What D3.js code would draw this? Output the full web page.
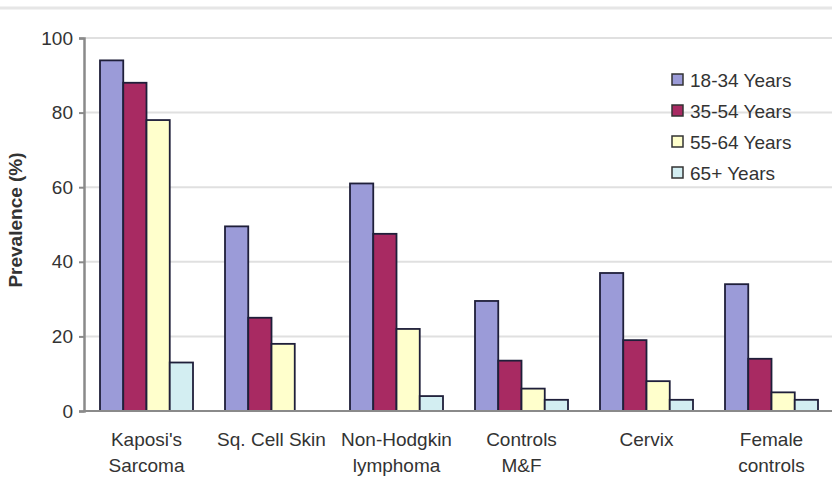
<!DOCTYPE html>
<html><head><meta charset="utf-8">
<script src="https://cdn.jsdelivr.net/npm/d3@7"></script>
<style>
html,body{margin:0;padding:0;background:#fff;}
svg{display:block;}
text{font-family:"Liberation Sans",Arial,sans-serif;fill:#333;}
</style></head>
<body>
<script>
const categories = [["Kaposi's","Sarcoma"],["Sq. Cell Skin"],["Non-Hodgkin","lymphoma"],["Controls","M&F"],["Cervix"],["Female","controls"]];
const seriesNames = ["18-34 Years","35-54 Years","55-64 Years","65+ Years"];
const age18_34 = [94, 49.5, 61, 29.5, 37, 34];
const age35_54 = [88, 25, 47.5, 13.5, 19, 14];
const age55_64 = [78, 18, 22, 6, 8, 5];
const age65plus = [13, 0, 4, 3, 3, 3];
const yTicks = [0, 20, 40, 60, 80, 100];
const colors = ["#9b9bd8", "#a82a62", "#ffffcc", "#d3eef2"];

const series = [age18_34, age35_54, age55_64, age65plus];
const W = 832, H = 477;
const svg = d3.select("body").append("svg").attr("width", W).attr("height", H);

const x0 = d3.scaleBand().domain(d3.range(categories.length)).range([84, 834]).paddingInner(0.256).paddingOuter(0.128);
const x1 = d3.scaleBand().domain(d3.range(seriesNames.length)).range([0, x0.bandwidth()]);
const y = d3.scaleLinear().domain([0, 100]).range([411, 38]);

// top border line
svg.append("line").attr("x1", 0).attr("x2", W).attr("y1", 8).attr("y2", 8).attr("stroke", "#e6e6e6").attr("stroke-width", 3);

// gridlines
svg.append("g").selectAll("line").data(yTicks.filter(d => d > 0)).join("line")
  .attr("x1", 84).attr("x2", W).attr("y1", d => y(d)).attr("y2", d => y(d))
  .attr("stroke", "#e0e0e0").attr("stroke-width", 2);

// bars
const g = svg.append("g");
series.forEach((vals, si) => {
  g.append("g").selectAll("rect").data(vals.map((v, ci) => ({v, ci}))).join("rect")
    .filter(d => d.v > 0)
    .attr("x", d => x0(d.ci) + x1(si))
    .attr("width", x1.bandwidth())
    .attr("y", d => y(d.v))
    .attr("height", d => y(0) - y(d.v))
    .attr("fill", colors[si])
    .attr("stroke", "#1f1f3a").attr("stroke-width", 1.8);
});

// x baseline
svg.append("line").attr("x1", 84).attr("x2", W).attr("y1", y(0)).attr("y2", y(0)).attr("stroke", "#8a8a8a").attr("stroke-width", 2);

// y axis
const yAxis = d3.axisLeft(y).tickValues(yTicks).tickSize(5).tickPadding(6);
const ya = svg.append("g").attr("transform", "translate(84,0)").call(yAxis);
ya.select(".domain").attr("stroke", "#8a8a8a").attr("stroke-width", 2.5);
ya.selectAll(".tick line").attr("stroke", "#8a8a8a").attr("stroke-width", 2);
ya.selectAll(".tick text").attr("font-size", 19).attr("font-family", "Liberation Sans, Arial, sans-serif").attr("fill", "#444");

// y label
svg.append("text").attr("transform", "translate(22,220) rotate(-90)").attr("text-anchor", "middle")
  .attr("font-size", 19).attr("font-weight", "bold").attr("fill", "#333").text("Prevalence (%)");

// x labels
const xl = svg.append("g").selectAll("text").data(categories).join("text")
  .attr("text-anchor", "middle").attr("font-size", 19).attr("fill", "#444")
  .attr("transform", (d, i) => `translate(${x0(i) + x0.bandwidth() / 2},446)`);
xl.selectAll("tspan").data(d => d).join("tspan").attr("x", 0).attr("dy", (d, i) => i === 0 ? 0 : 26).text(d => d);

// legend
const lg = svg.append("g").attr("transform", "translate(672,0)");
const rows = lg.selectAll("g").data(seriesNames).join("g").attr("transform", (d, i) => `translate(0,${80 + i * 31})`);
rows.append("rect").attr("x", 0).attr("y", -6).attr("width", 11).attr("height", 11)
  .attr("fill", (d, i) => colors[i]).attr("stroke", "#333").attr("stroke-width", 1.5);
rows.append("text").attr("x", 18).attr("y", 7).attr("font-size", 19).attr("fill", "#444").text(d => d);
</script>
</body></html>
